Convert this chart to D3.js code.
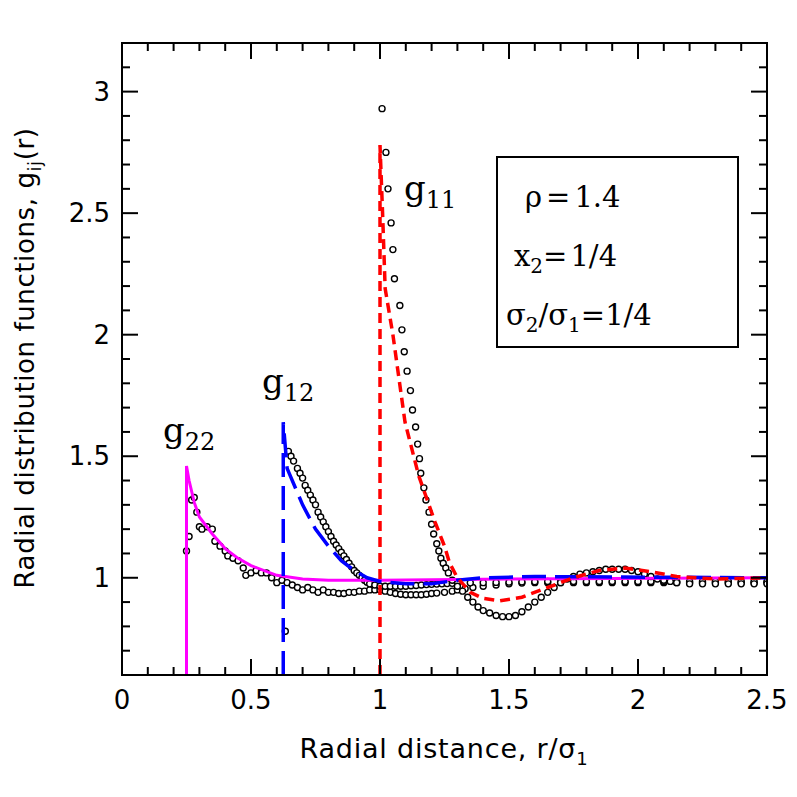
<!DOCTYPE html><html><head><meta charset="utf-8"><script src="https://cdn.jsdelivr.net/npm/d3@7"></script>
<style>body{margin:0;background:#fff}</style></head><body><svg id="c" width="797" height="797"></svg>
<script>
const xTicks=[0,0.5,1,1.5,2,2.5], yTicks=[1,1.5,2,2.5,3];
const g22Theory=[[0.25,0.6],[0.25,1.46],[0.26,1.4],[0.28,1.31],[0.3,1.25],[0.35,1.18],[0.4,1.12],[0.45,1.08],[0.5,1.05],[0.6,1.01],[0.7,0.995],[0.8,0.99],[1.0,0.99],[1.5,0.995],[2.5,1.0]];
const g12Theory=[[0.625,0.6],[0.625,1.64],[0.64,1.45],[0.7,1.3],[0.75,1.2],[0.8,1.13],[0.85,1.07],[0.9,1.03],[0.95,1.0],[1.0,0.985],[1.1,0.975],[1.2,0.975],[1.3,0.99],[1.4,1.0],[1.6,1.005],[2.5,1.0]];
const g11Theory=[[1,0.6],[1,2.78],[1.01,2.5],[1.02,2.19],[1.05,2.0],[1.097,1.64],[1.15,1.42],[1.213,1.23],[1.25,1.13],[1.27,1.06],[1.3,1.0],[1.35,0.94],[1.4,0.915],[1.465,0.905],[1.55,0.92],[1.65,0.96],[1.75,1.0],[1.85,1.03],[1.95,1.04],[2.05,1.025],[2.15,1.005],[2.3,0.995],[2.5,1.0]];
const g22Sim=[[0.25,1.11],[0.26,1.17],[0.27,1.32],[0.28,1.33],[0.29,1.27],[0.3,1.21],[0.31,1.2],[0.33,1.21],[0.35,1.2],[0.36,1.15],[0.38,1.13],[0.4,1.11],[0.41,1.09],[0.43,1.08],[0.45,1.07],[0.47,1.04],[0.48,1.01],[0.5,1.02],[0.52,1.03],[0.54,1.02],[0.56,1.02],[0.58,1.0],[0.6,0.98],[0.62,0.99],[0.64,0.98],[0.66,0.97],[0.68,0.96],[0.7,0.95],[0.72,0.96],[0.74,0.95],[0.76,0.94],[0.78,0.95],[0.8,0.94],[0.82,0.94],[0.84,0.935],[0.86,0.935],[0.88,0.94],[0.9,0.94],[0.92,0.945],[0.94,0.945],[0.96,0.95],[0.98,0.95],[1.0,0.95],[1.02,0.945],[1.04,0.94],[1.06,0.935],[1.08,0.932],[1.1,0.93],[1.12,0.93],[1.14,0.93],[1.16,0.93],[1.18,0.932],[1.2,0.935],[1.22,0.937],[1.25,0.94],[1.28,0.945],[1.3,0.95],[1.33,0.955],[1.36,0.96],[1.4,0.965],[1.45,0.97],[1.5,0.975],[1.55,0.978],[1.6,0.98],[1.65,0.98],[1.7,0.98],[1.75,0.98],[1.8,0.98],[1.85,0.98],[1.9,0.98],[1.95,0.98],[2.0,0.98],[2.05,0.98],[2.1,0.98],[2.15,0.98],[2.2,0.98],[2.25,0.98],[2.3,0.98],[2.35,0.98],[2.4,0.98],[2.45,0.98],[2.5,0.98]];
const g12Sim=[[0.633,0.78],[0.645,1.52],[0.655,1.5],[0.665,1.48],[0.68,1.45],[0.69,1.43],[0.7,1.41],[0.71,1.38],[0.72,1.36],[0.73,1.34],[0.74,1.32],[0.75,1.3],[0.76,1.27],[0.77,1.25],[0.78,1.23],[0.79,1.21],[0.8,1.19],[0.81,1.17],[0.82,1.15],[0.83,1.135],[0.84,1.12],[0.85,1.105],[0.86,1.09],[0.87,1.075],[0.88,1.06],[0.89,1.045],[0.9,1.03],[0.91,1.02],[0.92,1.01],[0.93,1.0],[0.94,0.99],[0.95,0.982],[0.96,0.975],[0.98,0.97],[1.0,0.965],[1.02,0.965],[1.04,0.965],[1.06,0.965],[1.08,0.965],[1.1,0.965],[1.12,0.967],[1.14,0.968],[1.16,0.97],[1.18,0.972],[1.2,0.973],[1.22,0.974],[1.24,0.975],[1.26,0.976],[1.28,0.977],[1.3,0.978],[1.35,0.979],[1.4,0.98],[1.45,0.981],[1.5,0.982],[1.55,0.983],[1.6,0.984],[1.65,0.985],[1.7,0.985],[1.75,0.985],[1.8,0.985],[1.85,0.985],[1.9,0.985],[1.95,0.985],[2.0,0.985],[2.05,0.985],[2.1,0.985],[2.15,0.985],[2.2,0.985],[2.25,0.985],[2.3,0.985],[2.35,0.985],[2.4,0.985],[2.45,0.985],[2.5,0.985]];
const g11Sim=[[1.008,2.93],[1.023,2.75],[1.031,2.6],[1.043,2.46],[1.05,2.35],[1.056,2.23],[1.077,2.12],[1.085,2.02],[1.094,1.93],[1.105,1.85],[1.118,1.77],[1.126,1.69],[1.138,1.62],[1.146,1.55],[1.153,1.49],[1.158,1.43],[1.17,1.37],[1.178,1.32],[1.19,1.27],[1.2,1.22],[1.208,1.18],[1.22,1.14],[1.228,1.11],[1.236,1.08],[1.245,1.06],[1.255,1.04],[1.265,1.02],[1.28,0.99],[1.3,0.965],[1.32,0.945],[1.34,0.92],[1.36,0.9],[1.38,0.88],[1.4,0.865],[1.425,0.855],[1.45,0.845],[1.475,0.84],[1.5,0.84],[1.525,0.845],[1.55,0.86],[1.575,0.88],[1.6,0.9],[1.625,0.92],[1.65,0.94],[1.675,0.96],[1.7,0.98],[1.725,0.995],[1.75,1.005],[1.775,1.015],[1.8,1.02],[1.825,1.025],[1.85,1.03],[1.875,1.035],[1.9,1.035],[1.925,1.035],[1.95,1.035],[1.975,1.03],[2.0,1.025],[2.025,1.015],[2.05,1.005],[2.075,0.995],[2.1,0.99],[2.125,0.985],[2.15,0.98],[2.2,0.975],[2.25,0.975],[2.3,0.975],[2.35,0.975],[2.4,0.975],[2.45,0.975],[2.5,0.975]];

const L=122,R=767,T=43,B=675;
const svg=d3.select("#c");
const x=d3.scaleLinear().domain([0,2.5]).range([L,R]);
const y=d3.scaleLinear().domain([0.6,3.2]).range([B,T]);
svg.append("defs").append("clipPath").attr("id","cp").append("rect").attr("x",L).attr("y",T).attr("width",R-L).attr("height",B-T);
const plot=svg.append("g").attr("clip-path","url(#cp)");
[g22Sim,g12Sim,g11Sim].forEach(s=>plot.selectAll(null).data(s).enter().append("circle").attr("cx",d=>x(d[0])).attr("cy",d=>y(d[1])).attr("r",3).attr("fill","#fff").attr("stroke","#000").attr("stroke-width",1.4));
const line=d3.line().x(d=>x(d[0])).y(d=>y(d[1]));
plot.append("path").attr("d",line(g22Theory)).attr("fill","none").attr("stroke","#ff00ff").attr("stroke-width",3);
plot.append("path").attr("d",line(g12Theory)).attr("fill","none").attr("stroke","#0000ff").attr("stroke-width",3.5).attr("stroke-dasharray","24,9");
plot.append("path").attr("d",line(g11Theory)).attr("fill","none").attr("stroke","#ff0000").attr("stroke-width",3.5).attr("stroke-dasharray","10,6");
const ax=svg.append("g").attr("stroke","#000").attr("stroke-width",2);
ax.append("rect").attr("x",L).attr("y",T).attr("width",R-L).attr("height",B-T).attr("fill","none");
d3.range(0,26).forEach(i=>{const px=x(i/10),len=i%5==0?16:8;
 ax.append("line").attr("x1",px).attr("x2",px).attr("y1",B).attr("y2",B-len);
 ax.append("line").attr("x1",px).attr("x2",px).attr("y1",T).attr("y2",T+len);});
d3.range(7,33).forEach(i=>{const py=y(i/10),len=i%5==0?16:8;
 ax.append("line").attr("y1",py).attr("y2",py).attr("x1",L).attr("x2",L+len);
 ax.append("line").attr("y1",py).attr("y2",py).attr("x1",R).attr("x2",R-len);});
const f="'DejaVu Sans',sans-serif";
svg.selectAll(null).data(xTicks).enter().append("text").attr("x",d=>x(d)).attr("y",709).attr("text-anchor","middle").attr("font-family",f).attr("font-size",26).text(d=>d);
svg.selectAll(null).data(yTicks).enter().append("text").attr("x",110).attr("y",d=>y(d)+9).attr("text-anchor","end").attr("font-family",f).attr("font-size",26).text(d=>d);
svg.append("text").attr("x",444).attr("y",758).attr("text-anchor","middle").attr("font-family",f).attr("font-size",27).attr("letter-spacing",0.8).html("Radial distance, r/&#963;<tspan font-size='18' dy='7'>1</tspan>");
svg.append("text").attr("transform","translate(34,358) rotate(-90)").attr("text-anchor","middle").attr("font-family",f).attr("font-size",26).attr("letter-spacing",0.6).html("Radial distribution functions, g<tspan font-size='18' dy='7'>ij</tspan><tspan dy='-7'>(r)</tspan>");
const sf="'DejaVu Serif',serif";
function lab(px,py,sub){svg.append("text").attr("x",px).attr("y",py).attr("font-family",sf).attr("font-size",34).html("g<tspan font-size='24' dy='8'>"+sub+"</tspan>");}
lab(163,442,"22");lab(262,393,"12");lab(404,200,"11");
svg.append("rect").attr("x",497).attr("y",157).attr("width",241).attr("height",190).attr("fill","none").attr("stroke","#000").attr("stroke-width",2);
const bt=svg.append("g").attr("font-family",sf).attr("font-size",29);
bt.append("text").attr("x",525).attr("y",207).html("&#961;<tspan dx='4'>=</tspan><tspan dx='4'>1.4</tspan>");
bt.append("text").attr("x",514).attr("y",266).html("x<tspan font-size='20' dy='7'>2</tspan><tspan dy='-7'>=</tspan><tspan dx='3'>1/4</tspan>");
bt.append("text").attr("x",506).attr("y",325).html("&#963;<tspan font-size='20' dy='7'>2</tspan><tspan dy='-7'>/&#963;</tspan><tspan font-size='20' dy='7'>1</tspan><tspan dy='-7'>=1/4</tspan>");
</script></body></html>
